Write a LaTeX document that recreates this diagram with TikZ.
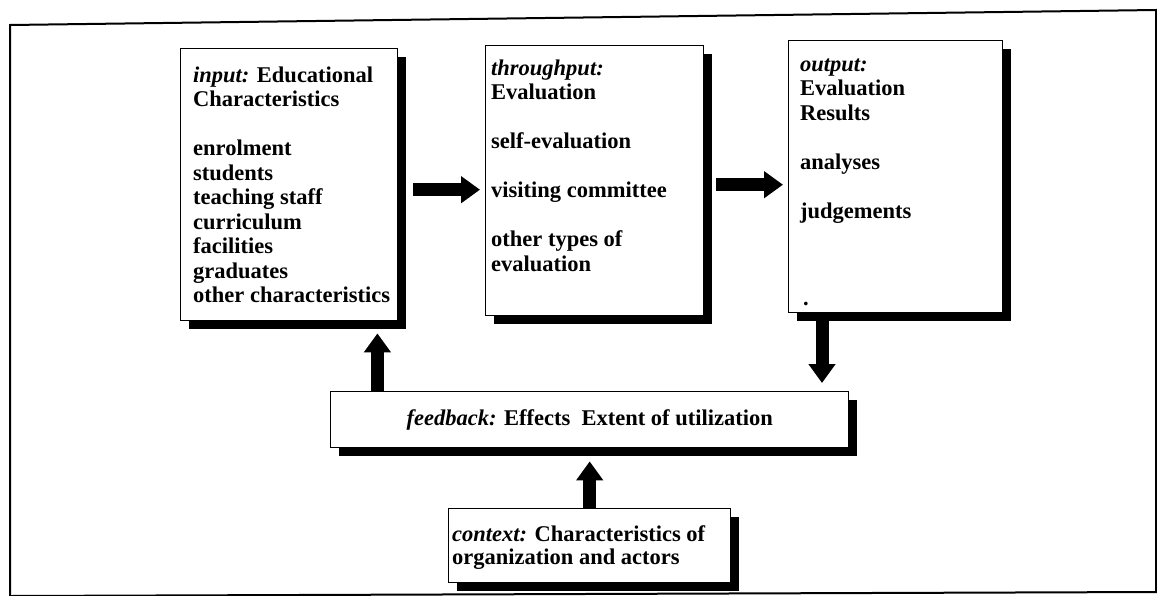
\documentclass[tikz,border=0pt]{standalone}
\usepackage{fontspec}
\setmainfont{Liberation Serif}
\usetikzlibrary{arrows.meta,shadows,calc}
\begin{document}
\begin{tikzpicture}[x=1pt,y=-1pt,
  box/.style={draw, line width=1.4pt, fill=white, anchor=north west, inner sep=0pt,
    drop shadow={shadow xshift=8pt, shadow yshift=-8pt, opacity=1, fill=black}},
  txt/.style={anchor=north west, inner sep=0pt, align=left,
    font=\fontsize{22.5}{24.5}\selectfont\bfseries},
  ctxtxt/.style={anchor=north west, inner sep=0pt, align=left,
    font=\fontsize{22.5}{22}\selectfont\bfseries},
  bigarrow/.style={line width=13pt, -{Triangle[width=26pt,length=19pt]}},
  frameline/.style={line width=2pt}]
\useasboundingbox (0,0) rectangle (1157,595);
% outer frame
\draw[frameline] (10,25) -- (1156,10) -- (1156,592) -- (10,596) -- cycle;
% boxes
\node[box, minimum width=217pt, minimum height=272pt] (in) at (180,48) {};
\node[box, minimum width=218pt, minimum height=270pt] (tp) at (485,45) {};
\node[box, minimum width=214pt, minimum height=272pt] (out) at (788,40) {};
\node[box, minimum width=518pt, minimum height=56pt,
      font=\fontsize{22.5}{24.5}\selectfont\bfseries] (fb) at (330,391)
      {\textit{feedback:} Effects\ \ Extent of utilization};
\node[box, minimum width=282pt, minimum height=74pt] (ctx) at (448,508) {};
% texts
\node[txt] (intext) at (193,64.85) {\strut\textit{input:} Educational\\Characteristics\\[24.5pt]enrolment\\students\\teaching staff\\curriculum\\facilities\\graduates\\other characteristics};
\node[txt] (tptext) at (491,57.85) {\strut\textit{throughput:}\\Evaluation\\[24.5pt]self-evaluation\\[24.5pt]visiting committee\\[24.5pt]other types of\\evaluation};
\node[txt] (outtext) at (800,53.85) {\strut\textit{output:}\\Evaluation\\Results\\[24.5pt]analyses\\[24.5pt]judgements};
\node[anchor=base west, inner sep=0pt, font=\fontsize{22.5}{24.5}\selectfont\bfseries] (dot) at (803,305) {.};
\node[ctxtxt] (ctxtext) at (452,525.6) {\strut\textit{context:} Characteristics of\\organization and actors};
% arrows
\coordinate (a1) at ([yshift=-5pt]in.east);
\draw[bigarrow, shorten <=15pt, shorten >=5pt] (a1) -- (a1 -| tp.west);
\coordinate (a2) at ([yshift=-4pt]tp.east);
\draw[bigarrow, shorten <=12pt, shorten >=5pt] (a2) -- (a2 -| out.west);
\coordinate (a3) at ($(in.south east)+(-21,0)$);
\draw[bigarrow, shorten >=12pt] (a3 |- fb.north) -- (a3);
\coordinate (a4) at ($(out.south west)+(34,0)$);
\draw[bigarrow, shorten >=8pt] (a4) -- (a4 |- fb.north);
\draw[bigarrow, shorten >=13pt] (ctx.north) -- (ctx.north |- fb.south);
\end{tikzpicture}
\end{document}
